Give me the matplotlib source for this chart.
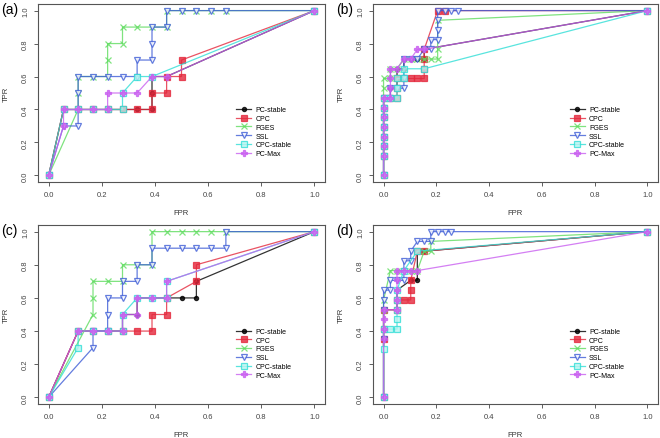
import numpy as np
import matplotlib
matplotlib.use('Agg')
import matplotlib.pyplot as plt

plt.rcParams['font.family'] = ['Liberation Sans', 'DejaVu Sans']

METHODS = ['PC-stable', 'CPC', 'FGES', 'SSL', 'CPC-stable', 'PC-Max']
COLORS = ['#000000', '#e4283c', '#5fdc5f', '#3d5cd6', '#30ded6', '#c95ff0']
MARKERS = ['.', 's', 'x', 'v', 's', 'P']
FACES = ['#000000', '#e4283c', 'none', 'white', '#b8f4f0', '#c95ff0']

# ---- panel (a): (fpr, tpr) per method ----
a_pcstable = ([0, 0.056, 0.111, 0.167, 0.222, 0.278, 0.333, 0.389, 0.389, 0.389, 0.444, 1],
              [0, 0.4, 0.4, 0.4, 0.4, 0.4, 0.4, 0.4, 0.5, 0.6, 0.6, 1])
a_cpc = ([0, 0.056, 0.111, 0.167, 0.222, 0.278, 0.333, 0.389, 0.389, 0.444, 0.444, 0.5, 0.5, 1],
         [0, 0.4, 0.4, 0.4, 0.4, 0.4, 0.4, 0.4, 0.5, 0.5, 0.6, 0.6, 0.7, 1])
a_fges = ([0, 0.111, 0.111, 0.111, 0.167, 0.222, 0.222, 0.222, 0.278, 0.278, 0.333, 0.389, 0.444, 0.444, 0.5, 0.556, 0.611, 0.667, 1],
          [0, 0.4, 0.5, 0.6, 0.6, 0.6, 0.7, 0.8, 0.8, 0.9, 0.9, 0.9, 0.9, 1, 1, 1, 1, 1, 1])
a_ssl = ([0, 0.056, 0.111, 0.111, 0.111, 0.167, 0.222, 0.278, 0.333, 0.333, 0.389, 0.389, 0.389, 0.444, 0.444, 0.5, 0.556, 0.611, 0.667, 1],
         [0, 0.3, 0.3, 0.5, 0.6, 0.6, 0.6, 0.6, 0.6, 0.7, 0.7, 0.8, 0.9, 0.9, 1, 1, 1, 1, 1, 1])
a_cpcstable = ([0, 0.056, 0.111, 0.167, 0.222, 0.278, 0.278, 0.333, 0.389, 1],
               [0, 0.4, 0.4, 0.4, 0.4, 0.4, 0.5, 0.6, 0.6, 1])
a_pcmax = ([0, 0.056, 0.056, 0.111, 0.167, 0.222, 0.222, 0.278, 0.333, 0.389, 0.444, 1],
           [0, 0.3, 0.4, 0.4, 0.4, 0.4, 0.5, 0.5, 0.5, 0.6, 0.6, 1])

# ---- panel (b) ----
b_pcstable = ([0, 0, 0, 0, 0, 0, 0, 0, 0.026, 0.026, 0.051, 0.051, 0.051, 0.077, 0.077, 0.103, 0.128, 0.154, 0.154, 1],
              [0, 0.118, 0.176, 0.235, 0.294, 0.353, 0.412, 0.471, 0.471, 0.529, 0.529, 0.588, 0.647, 0.647, 0.706, 0.706, 0.706, 0.706, 0.765, 1])
b_cpc = ([0, 0, 0, 0, 0, 0, 0, 0, 0.026, 0.051, 0.051, 0.051, 0.077, 0.103, 0.128, 0.154, 0.154, 0.154, 0.154, 0.205, 0.231, 1],
         [0, 0.118, 0.176, 0.235, 0.294, 0.353, 0.412, 0.471, 0.471, 0.471, 0.529, 0.588, 0.588, 0.588, 0.588, 0.588, 0.647, 0.706, 0.765, 1, 1, 1])
b_fges = ([0, 0, 0, 0, 0, 0, 0, 0, 0, 0, 0.026, 0.026, 0.051, 0.077, 0.103, 0.128, 0.154, 0.179, 0.205, 0.205, 0.205, 1],
          [0, 0.118, 0.176, 0.235, 0.294, 0.353, 0.412, 0.471, 0.529, 0.588, 0.588, 0.647, 0.647, 0.706, 0.706, 0.706, 0.706, 0.706, 0.706, 0.765, 0.941, 1])
b_ssl = ([0, 0, 0, 0, 0, 0, 0, 0, 0.026, 0.026, 0.051, 0.077, 0.077, 0.077, 0.103, 0.128, 0.154, 0.179, 0.179, 0.205, 0.205, 0.205, 0.205, 0.231, 0.256, 0.282, 1],
         [0, 0.118, 0.176, 0.235, 0.294, 0.353, 0.412, 0.471, 0.471, 0.529, 0.529, 0.529, 0.588, 0.706, 0.706, 0.706, 0.765, 0.765, 0.824, 0.824, 0.882, 0.941, 1, 1, 1, 1, 1])
b_cpcstable = ([0, 0, 0, 0, 0, 0, 0, 0, 0.026, 0.051, 0.051, 0.051, 0.077, 0.077, 0.154, 1],
               [0, 0.118, 0.176, 0.235, 0.294, 0.353, 0.412, 0.471, 0.471, 0.471, 0.529, 0.588, 0.588, 0.647, 0.647, 1])
b_pcmax = ([0, 0, 0, 0, 0, 0, 0, 0, 0.026, 0.026, 0.026, 0.026, 0.051, 0.077, 0.103, 0.128, 0.154, 1],
           [0, 0.118, 0.176, 0.235, 0.294, 0.353, 0.412, 0.471, 0.471, 0.529, 0.588, 0.647, 0.647, 0.706, 0.706, 0.765, 0.765, 1])

# ---- panel (c) ----
c_pcstable = ([0, 0.111, 0.167, 0.222, 0.278, 0.278, 0.333, 0.333, 0.389, 0.444, 0.5, 0.556, 0.556, 1],
              [0, 0.4, 0.4, 0.4, 0.4, 0.5, 0.5, 0.6, 0.6, 0.6, 0.6, 0.6, 0.7, 1])
c_cpc = ([0, 0.111, 0.167, 0.222, 0.278, 0.333, 0.389, 0.389, 0.444, 0.444, 0.556, 0.556, 1],
         [0, 0.4, 0.4, 0.4, 0.4, 0.4, 0.4, 0.5, 0.5, 0.6, 0.7, 0.8, 1])
c_fges = ([0, 0.167, 0.167, 0.167, 0.222, 0.278, 0.278, 0.333, 0.389, 0.389, 0.444, 0.5, 0.556, 0.611, 0.667, 1],
          [0, 0.5, 0.6, 0.7, 0.7, 0.7, 0.8, 0.8, 0.8, 1, 1, 1, 1, 1, 1, 1])
c_ssl = ([0, 0.167, 0.167, 0.222, 0.222, 0.222, 0.278, 0.278, 0.333, 0.333, 0.389, 0.389, 0.444, 0.5, 0.556, 0.611, 0.667, 0.667, 1],
         [0, 0.3, 0.4, 0.4, 0.5, 0.6, 0.6, 0.7, 0.7, 0.8, 0.8, 0.9, 0.9, 0.9, 0.9, 0.9, 0.9, 1, 1])
c_cpcstable = ([0, 0.111, 0.111, 0.167, 0.222, 0.278, 0.278, 0.333, 0.389, 0.444, 0.444, 1],
               [0, 0.3, 0.4, 0.4, 0.4, 0.4, 0.5, 0.6, 0.6, 0.6, 0.7, 1])
c_pcmax = ([0, 0.111, 0.167, 0.222, 0.278, 0.278, 0.333, 0.333, 0.389, 0.444, 0.444, 1],
           [0, 0.4, 0.4, 0.4, 0.4, 0.5, 0.5, 0.6, 0.6, 0.6, 0.7, 1])

# ---- panel (d) ----
d_pcstable = ([0, 0, 0, 0, 0.051, 0.051, 0.051, 0.103, 0.128, 0.128, 0.154, 1],
              [0, 0.353, 0.412, 0.529, 0.529, 0.588, 0.647, 0.706, 0.706, 0.882, 0.882, 1])
d_cpc = ([0, 0, 0, 0, 0.051, 0.051, 0.077, 0.103, 0.103, 0.103, 0.128, 0.154, 1],
         [0, 0.353, 0.412, 0.529, 0.529, 0.588, 0.588, 0.588, 0.647, 0.706, 0.882, 0.882, 1])
d_fges = ([0, 0, 0, 0.026, 0.051, 0.103, 0.128, 0.154, 0.179, 0.179, 1],
          [0, 0.529, 0.588, 0.765, 0.765, 0.765, 0.765, 0.882, 0.882, 0.941, 1])
d_ssl = ([0, 0, 0, 0, 0, 0.026, 0.026, 0.051, 0.077, 0.077, 0.077, 0.103, 0.103, 0.128, 0.154, 0.179, 0.179, 0.205, 0.231, 0.256, 1],
         [0, 0.353, 0.529, 0.588, 0.647, 0.647, 0.706, 0.706, 0.706, 0.765, 0.824, 0.824, 0.882, 0.941, 0.941, 0.941, 1, 1, 1, 1, 1])
d_cpcstable = ([0, 0, 0, 0.026, 0.051, 0.051, 0.051, 0.051, 0.051, 0.077, 0.128, 1],
               [0, 0.294, 0.412, 0.412, 0.412, 0.471, 0.529, 0.588, 0.647, 0.765, 0.882, 1])
d_pcmax = ([0, 0, 0, 0, 0, 0.051, 0.051, 0.051, 0.051, 0.051, 0.077, 0.103, 0.128, 1],
           [0, 0.353, 0.412, 0.471, 0.529, 0.529, 0.588, 0.647, 0.706, 0.765, 0.765, 0.765, 0.765, 1])

PANELS = [
    ('(a)', [a_pcstable, a_cpc, a_fges, a_ssl, a_cpcstable, a_pcmax]),
    ('(b)', [b_pcstable, b_cpc, b_fges, b_ssl, b_cpcstable, b_pcmax]),
    ('(c)', [c_pcstable, c_cpc, c_fges, c_ssl, c_cpcstable, c_pcmax]),
    ('(d)', [d_pcstable, d_cpc, d_fges, d_ssl, d_cpcstable, d_pcmax]),
]

# axes boxes in pixels: left, top, right, bottom (660 x 439 canvas)
W, H = 660, 439
BOXES = [(38, 5, 325, 183), (373, 5, 658, 183), (38, 226, 325, 405), (373, 226, 658, 405)]

fig = plt.figure(figsize=(6.6, 4.39), dpi=100)

for (label, curves), (l, t, r, b) in zip(PANELS, BOXES):
    ax = fig.add_axes([l / W, 1 - b / H, (r - l) / W, (b - t) / H])
    for (fpr, tpr), name, col, mk, fc in zip(curves, METHODS, COLORS, MARKERS, FACES):
        ms = 6 if mk == '.' else 4
        ax.plot(fpr, tpr, '-', color=col, lw=0.9, alpha=0.8, marker=mk, markersize=ms,
                markerfacecolor=fc, markeredgecolor=col, markeredgewidth=0.9, label=name)
    ax.set_xlim(-0.04, 1.04)
    ax.set_ylim(-0.04, 1.04)
    ticks = np.arange(0, 1.01, 0.2)
    ax.set_xticks(ticks)
    ax.set_yticks(ticks)
    ax.set_xticklabels([f'{v:.1f}' for v in ticks])
    ax.set_yticklabels([f'{v:.1f}' for v in ticks], rotation=90, va='center')
    ax.tick_params(length=3, width=0.6, labelsize=5.5, pad=3.5, colors='#444444')
    for sp in ax.spines.values():
        sp.set_color('#555555')
        sp.set_linewidth(0.8)
    ax.set_xlabel('FPR', fontsize=5.5, labelpad=8, color='#333333')
    ax.set_ylabel('TPR', fontsize=5.5, labelpad=9, color='#333333')
    ax.legend(loc='upper left', bbox_to_anchor=(0.68, 0.44), frameon=False, fontsize=5,
              handlelength=2.2, labelspacing=0.25, handletextpad=0.6, borderaxespad=0)
    fig.text((l - 38) / W + 0.001, 1 - (t + 5) / H, label, fontsize=10, ha='left', va='center')

fig.savefig('out.png', dpi=100)
